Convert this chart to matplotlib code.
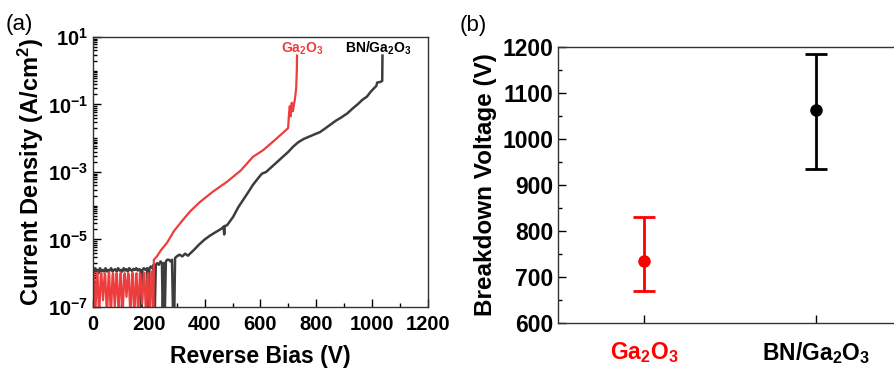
import numpy as np
import matplotlib
matplotlib.use("Agg")
import matplotlib.pyplot as plt
from matplotlib.ticker import FixedLocator, NullFormatter

plt.rcParams["font.family"] = ["Liberation Sans", "DejaVu Sans"]
plt.rcParams["font.weight"] = "bold"
plt.rcParams["mathtext.fontset"] = "custom"
plt.rcParams["mathtext.rm"] = "Liberation Sans:bold"
plt.rcParams["mathtext.bf"] = "Liberation Sans:bold"
plt.rcParams["mathtext.it"] = "Liberation Sans:bold"

# (a) J-V sweeps, log10 of current density (A/cm^2) vs reverse bias (V)
bn_bias = [0, 2, 4, 8, 12, 16, 20, 25, 30, 35, 40, 45, 50, 55, 60, 65, 70, 75, 80, 85,
           90, 95, 100, 105, 110, 115, 120, 125, 130, 135, 140, 145, 150, 155, 160, 165,
           170, 174, 177, 182, 188, 194, 198, 202, 207, 212, 217, 221, 225, 230, 236, 242,
           247, 250, 254, 257, 261, 266, 272, 278, 283, 287, 291, 294, 300, 310, 320, 330,
           340, 350, 365, 380, 400, 420, 440, 460, 468, 470, 472, 480, 502, 520, 540, 556,
           573, 590, 605, 620, 640, 660, 680, 700, 717, 735, 755, 775, 795, 813, 830, 850,
           870, 890, 910, 930, 950, 965, 981, 995, 1010, 1015, 1018, 1030, 1036, 1037]
bn_logj = [-7.3, -6.1, -5.95, -5.85, -5.95, -5.9, -6.0, -5.85, -5.95, -5.9, -5.95, -5.85,
           -5.95, -5.9, -5.92, -5.85, -5.95, -5.9, -5.88, -5.95, -5.85, -5.92, -5.9, -5.95,
           -5.85, -5.92, -5.88, -5.95, -5.85, -5.9, -5.93, -5.87, -5.9, -5.85, -5.92, -5.88,
           -5.9, -7.3, -5.9, -5.85, -5.9, -5.85, -7.3, -5.85, -5.8, -5.85, -5.75, -7.3,
           -5.75, -5.7, -5.75, -5.65, -5.7, -7.3, -5.7, -7.3, -5.65, -5.6, -5.6, -5.65,
           -5.6, -7.3, -7.3, -5.55, -5.5, -5.45, -5.5, -5.42, -5.48, -5.4, -5.28, -5.15,
           -5.0, -4.88, -4.78, -4.68, -4.62, -4.85, -4.6, -4.58, -4.33, -4.05, -3.8, -3.6,
           -3.38, -3.2, -3.05, -3.0, -2.85, -2.7, -2.55, -2.4, -2.25, -2.12, -2.02, -1.95,
           -1.88, -1.82, -1.72, -1.6, -1.48, -1.38, -1.27, -1.12, -0.98, -0.86, -0.77,
           -0.62, -0.49, -0.45, -0.35, -0.33, -0.3, 0.45]

ga_bias = [0, 1, 3, 8, 14, 16, 22, 28, 30, 36, 42, 44, 50, 56, 58, 64, 70, 72, 78,
           84, 86, 92, 98, 100, 106, 112, 114, 120, 126, 128, 134, 140, 142, 148,
           154, 156, 162, 168, 170, 176, 182, 184, 190, 196, 198, 204, 210, 213, 216,
           218, 229, 245, 265, 290, 322, 350, 383, 430, 480, 530, 573, 610,
           645, 675, 699, 702, 705, 708, 712, 716, 720, 724, 728, 730, 731]
ga_logj = [-7.3, -6.05, -6.0, -7.3, -6.02, -5.98, -7.3, -6.05, -6.0, -6.8, -6.0, -6.05,
           -7.3, -6.02, -5.98, -7.3, -6.05, -6.0, -7.0, -6.0, -6.05, -7.3, -6.02, -5.98,
           -7.3, -6.05, -6.0, -6.7, -6.0, -6.05, -7.3, -6.02, -5.98, -7.3, -6.05, -6.0,
           -7.3, -6.0, -6.05, -6.9, -6.02, -5.98, -7.3, -6.05, -6.0, -7.3, -5.95, -5.95,
           -7.3,
           -5.6, -5.5, -5.3, -5.1, -4.75, -4.42, -4.15, -3.89, -3.58, -3.29, -2.95, -2.55,
           -2.35, -2.1, -1.88, -1.7, -1.3, -1.05, -1.35, -0.95, -1.2, -1.0, -0.8, -0.5,
           0.0, 0.45]

# (b) breakdown voltage statistics (V)
samples = ["Ga$_\\mathbf{2}$O$_\\mathbf{3}$", "BN/Ga$_\\mathbf{2}$O$_\\mathbf{3}$"]
bv_mean = [735, 1062]
bv_low = [670, 935]
bv_high = [830, 1185]

red_line = "#ee3d3d"
grey_line = "#3d3d3d"
sample_colors = ["#ff0000", "#000000"]

fig = plt.figure(figsize=(8.95, 3.71), dpi=100)
ax_a = fig.add_axes([0.1039, 0.1725, 0.3743, 0.7278])
ax_b = fig.add_axes([0.6235, 0.1294, 0.3843, 0.7439])

# panel (a)
ax_a.plot(bn_bias, 10 ** np.array(bn_logj), color=grey_line, lw=1.8)
ax_a.plot(ga_bias, 10 ** np.array(ga_logj), color=red_line, lw=1.6)
ax_a.set_yscale("log")
ax_a.set_xlim(0, 1200)
ax_a.set_ylim(1e-7, 1e1)
decades = [-7, -5, -3, -1, 1]
ax_a.set_yticks([10.0 ** d for d in decades],
                labels=[rf"$\mathbf{{10^{{{d}}}}}$" for d in decades])
minor = [m * 10.0 ** d for d in range(-7, 1) for m in range(1, 10)]
ax_a.yaxis.set_minor_locator(FixedLocator(minor))
ax_a.yaxis.set_minor_formatter(NullFormatter())
ax_a.set_xticks(range(0, 1201, 200))
ax_a.set_xticks(range(100, 1200, 200), minor=True)
ax_a.tick_params(which="both", direction="in", labelsize=14.5, width=1)
ax_a.tick_params(axis="x", pad=6)
ax_a.set_xlabel("Reverse Bias (V)", fontsize=16.5, fontweight="bold", labelpad=8)
ax_a.set_ylabel("Current Density (A/cm$^\\mathbf{2}$)", fontsize=17,
                fontweight="bold", labelpad=1)
ax_a.text(749, 10 ** 0.53, samples[0], color=red_line, fontsize=10, fontweight="bold",
          ha="center", va="baseline")
ax_a.text(1021, 10 ** 0.53, samples[1], color="black", fontsize=10, fontweight="bold",
          ha="center", va="baseline")

# panel (b)
x_pos = [1, 2]
for i in range(len(samples)):
    ax_b.errorbar(x_pos[i], bv_mean[i],
                  yerr=[[bv_mean[i] - bv_low[i]], [bv_high[i] - bv_mean[i]]],
                  fmt="o", color=sample_colors[i], ms=8, lw=2, capsize=8,
                  capthick=2)
ax_b.set_xlim(0.5, 2.5)
ax_b.set_ylim(600, 1200)
ax_b.set_yticks(range(600, 1201, 100))
ax_b.set_yticks(range(650, 1200, 100), minor=True)
ax_b.set_xticks(x_pos, labels=samples)
ax_b.tick_params(which="both", direction="in", labelsize=16.5, width=1)
ax_b.tick_params(axis="x", pad=12)
for lbl, c in zip(ax_b.get_xticklabels(), sample_colors):
    lbl.set_color(c)
ax_b.set_ylabel("Breakdown Voltage (V)", fontsize=17.5, fontweight="bold", labelpad=4)

for ax in (ax_a, ax_b):
    ax.tick_params(which="major", length=6)
    ax.tick_params(which="minor", length=3)
    for lbl in ax.get_yticklabels() + ax.get_xticklabels():
        lbl.set_fontweight("bold")
    for sp in ax.spines.values():
        sp.set_linewidth(1)
        sp.set_color("#333333")

fig.text(0.006, 0.935, "(a)", fontsize=16, fontweight="normal", va="center")
fig.text(0.514, 0.93, "(b)", fontsize=16, fontweight="normal", va="center")

fig.savefig("out.png", dpi=100)
